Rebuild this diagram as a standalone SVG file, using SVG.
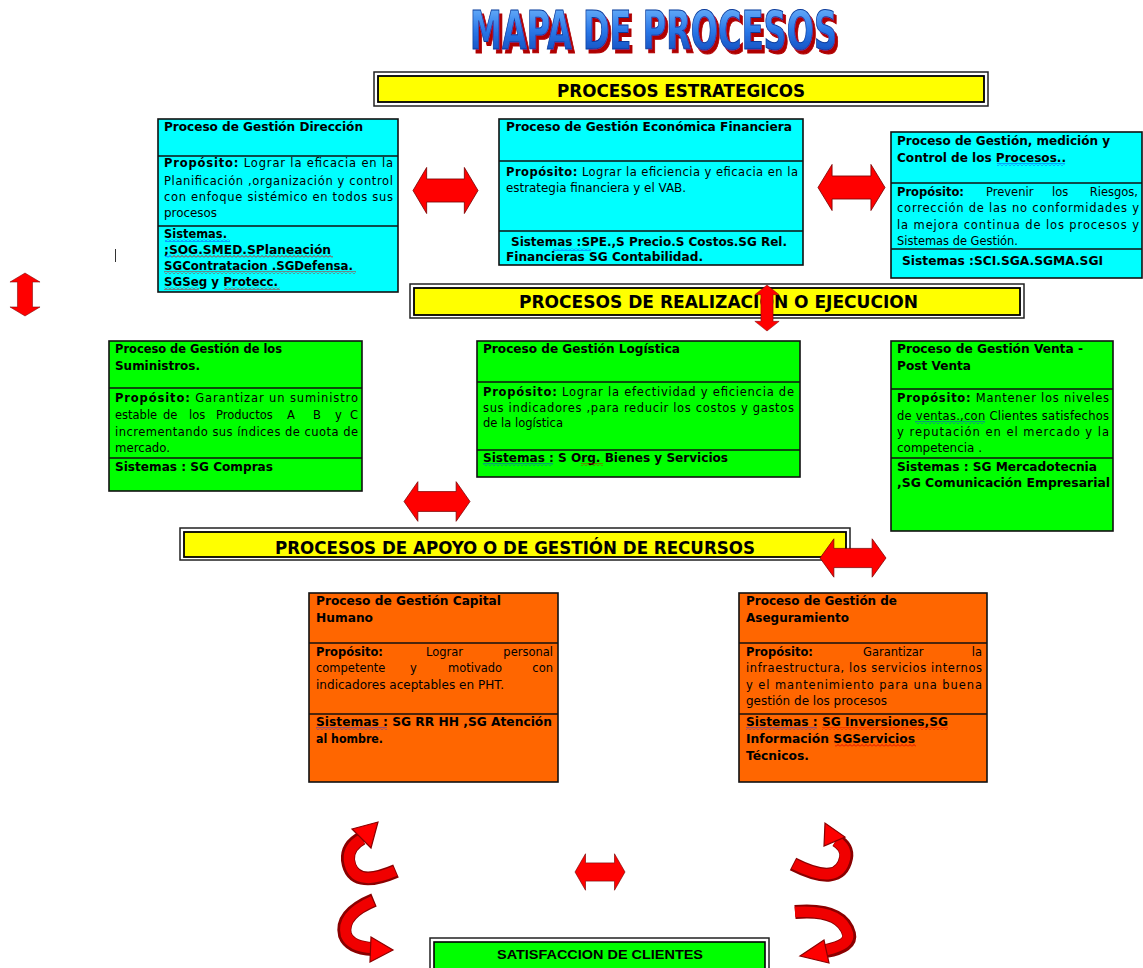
<svg xmlns="http://www.w3.org/2000/svg" width="1143" height="968" viewBox="0 0 1143 968">
<style>
.bx{stroke:#111;stroke-width:1.6}
.cy{fill:#00ffff}.gr{fill:#00ff00}.or{fill:#ff6600}
.dv{stroke:#111;stroke-width:1.6}
.b{font-family:"DejaVu Sans",Verdana,sans-serif;font-size:12px;font-weight:bold;fill:#000}
.r{font-family:"DejaVu Sans",Verdana,sans-serif;font-size:11.5px;fill:#000}
.bt{font-weight:bold}
.bn{font-family:"DejaVu Sans Condensed","DejaVu Sans",sans-serif;font-size:17px;font-weight:bold;fill:#000}
.ban-o{fill:#fff;stroke:#222;stroke-width:1.5}
.ban-i{fill:#ffff00;stroke:#000;stroke-width:1.8}
.arr{fill:#ff0000;stroke:#7a0000;stroke-width:1.2}
.rb-o{fill:none;stroke:#8a0000;stroke-width:14;stroke-linecap:butt}
.rb-i{fill:none;stroke:#f00000;stroke-width:10.5;stroke-linecap:butt}
.hd{fill:#ff0000;stroke:#8a0000;stroke-width:1.2}
</style>
<defs>
<linearGradient id="tg" x1="0" y1="0" x2="0" y2="1">
<stop offset="0" stop-color="#7cc0ff"/><stop offset="0.5" stop-color="#2a78e8"/><stop offset="1" stop-color="#0a3fb0"/>
</linearGradient>
<filter id="tsh" x="-5%" y="-15%" width="115%" height="140%">
<feOffset in="SourceAlpha" dx="3" dy="4" result="o"/>
<feFlood flood-color="#b00000"/>
<feComposite in2="o" operator="in" result="s"/>
<feMerge><feMergeNode in="s"/><feMergeNode in="SourceGraphic"/></feMerge>
</filter>
<pattern id="wr" width="4" height="3" patternUnits="userSpaceOnUse"><path d="M0 2.5 L2 0.5 L4 2.5" fill="none" stroke="#e00000" stroke-width="0.9"/></pattern>
<pattern id="wb" width="4" height="3" patternUnits="userSpaceOnUse"><path d="M0 2.5 L2 0.5 L4 2.5" fill="none" stroke="#1030ff" stroke-width="0.9"/></pattern>
<path id="dbl" d="M-50 0 L-29 -32 L-29 -16 L29 -16 L29 -32 L50 0 L29 32 L29 16 L-29 16 L-29 32 Z"/>
</defs>
<rect width="1143" height="968" fill="#fff"/>

<g id="title">
<text x="470" y="49" textLength="367" lengthAdjust="spacingAndGlyphs" font-family="DejaVu Sans Condensed, DejaVu Sans, sans-serif" font-weight="bold" font-size="54" fill="url(#tg)" stroke="#0b3a9a" stroke-width="1" filter="url(#tsh)">MAPA DE PROCESOS</text>
</g>

<g id="banner-estrategicos">
<rect class="ban-o" x="374" y="72" width="614" height="34"/>
<rect class="ban-i" x="378" y="76" width="606" height="26"/>
<text class="bn" x="557" y="97" textLength="248" lengthAdjust="spacingAndGlyphs">PROCESOS ESTRATEGICOS</text>
</g>

<g id="banner-realizacion">
<rect class="ban-o" x="410" y="284" width="614" height="34"/>
<rect class="ban-i" x="414" y="288" width="606" height="27"/>
<text class="bn" x="519" y="308" textLength="399" lengthAdjust="spacingAndGlyphs">PROCESOS DE REALIZACION O EJECUCION</text>
</g>

<g id="banner-apoyo">
<rect class="ban-o" x="180" y="528" width="670" height="32"/>
<rect class="ban-i" x="184" y="532" width="662" height="25"/>
<text class="bn" x="275" y="554" textLength="480" lengthAdjust="spacingAndGlyphs">PROCESOS DE APOYO O DE GESTIÓN DE RECURSOS</text>
</g>

<g id="n-direccion">
<rect class="bx cy" x="158" y="119" width="240" height="173"/>
<line class="dv" x1="158" y1="156" x2="398" y2="156"/>
<line class="dv" x1="158" y1="226" x2="398" y2="226"/>
<text class="b" x="164" y="131" textLength="199" lengthAdjust="spacingAndGlyphs">Proceso de Gestión Dirección</text>
<text class="r" x="164" y="167" textLength="229" lengthAdjust="spacing"><tspan class="bt">Propósito:</tspan> Lograr la eficacia en la</text>
<text class="r" x="164" y="185" textLength="229" lengthAdjust="spacing">Planificación ,organización y control</text>
<text class="r" x="164" y="201" textLength="229" lengthAdjust="spacing">con enfoque sistémico en todos sus</text>
<text class="r" x="164" y="217" textLength="53" lengthAdjust="spacingAndGlyphs">procesos</text>
<text class="b" x="164" y="238" textLength="63" lengthAdjust="spacingAndGlyphs">Sistemas.</text>
<text class="b" x="164" y="254" textLength="167" lengthAdjust="spacingAndGlyphs">;SOG.SMED.SPlaneación</text>
<text class="b" x="164" y="270" textLength="189" lengthAdjust="spacingAndGlyphs">SGContratacion .SGDefensa.</text>
<text class="b" x="164" y="286" textLength="114" lengthAdjust="spacingAndGlyphs">SGSeg y Protecc.</text>
<rect x="165" y="239" width="65" height="3" fill="url(#wb)"/>
<rect x="165" y="255" width="6" height="3" fill="url(#wb)"/>
<rect x="171" y="255" width="162" height="3" fill="url(#wr)"/>
<rect x="164" y="271" width="192" height="3" fill="url(#wr)"/>
<rect x="164" y="287" width="35" height="3" fill="url(#wr)"/>
<rect x="224" y="287" width="56" height="3" fill="url(#wr)"/>
</g>

<g id="n-economica">
<rect class="bx cy" x="499" y="119" width="304" height="146"/>
<line class="dv" x1="499" y1="161" x2="803" y2="161"/>
<line class="dv" x1="499" y1="231" x2="803" y2="231"/>
<text class="b" x="506" y="131" textLength="286" lengthAdjust="spacingAndGlyphs">Proceso de Gestión Económica Financiera</text>
<text class="r" x="506" y="176" textLength="292" lengthAdjust="spacing"><tspan class="bt">Propósito:</tspan> Lograr la eficiencia y eficacia en la</text>
<text class="r" x="506" y="192" textLength="180" lengthAdjust="spacingAndGlyphs">estrategia financiera y el VAB.</text>
<text class="b" x="511" y="246" textLength="276" lengthAdjust="spacingAndGlyphs">Sistemas :SPE.,S Precio.S Costos.SG Rel.</text>
<text class="b" x="506" y="261" textLength="197" lengthAdjust="spacingAndGlyphs">Financieras SG Contabilidad.</text>
<rect x="553" y="248" width="38" height="3" fill="url(#wb)"/>
</g>

<g id="n-control">
<rect class="bx cy" x="891" y="132" width="251" height="146"/>
<line class="dv" x1="891" y1="183" x2="1142" y2="183"/>
<line class="dv" x1="891" y1="249" x2="1142" y2="249"/>
<text class="b" x="897" y="145" textLength="213" lengthAdjust="spacingAndGlyphs">Proceso de Gestión, medición y</text>
<text class="b" x="897" y="162" textLength="169" lengthAdjust="spacingAndGlyphs">Control de los Procesos..</text>
<text class="r" y="196"><tspan class="bt" x="897">Propósito:</tspan><tspan x="986">Prevenir</tspan><tspan x="1052">los</tspan><tspan x="1138" text-anchor="end">Riesgos,</tspan></text>
<text class="r" x="897" y="212" textLength="242" lengthAdjust="spacing">corrección de  las no conformidades y</text>
<text class="r" x="897" y="229" textLength="242" lengthAdjust="spacing">la mejora continua de los procesos y</text>
<text class="r" x="897" y="245" textLength="121" lengthAdjust="spacingAndGlyphs">Sistemas de Gestión.</text>
<text class="b" x="902" y="265" textLength="201" lengthAdjust="spacingAndGlyphs">Sistemas :SCI.SGA.SGMA.SGI</text>
<rect x="997" y="163" width="68" height="3" fill="url(#wb)"/>
</g>

<g id="n-suministros">
<rect class="bx gr" x="109" y="341" width="253" height="150"/>
<line class="dv" x1="109" y1="388" x2="362" y2="388"/>
<line class="dv" x1="109" y1="458" x2="362" y2="458"/>
<text class="b" x="115" y="353" textLength="167" lengthAdjust="spacingAndGlyphs">Proceso de Gestión de los</text>
<text class="b" x="115" y="370" textLength="85" lengthAdjust="spacingAndGlyphs">Suministros.</text>
<text class="r" x="115" y="402" textLength="243" lengthAdjust="spacing"><tspan class="bt">Propósito:</tspan> Garantizar un suministro</text>
<text class="r" y="419"><tspan x="115">estable</tspan><tspan x="163">de</tspan><tspan x="189">los</tspan><tspan x="216">Productos</tspan><tspan x="287">A</tspan><tspan x="313">B</tspan><tspan x="335">y</tspan><tspan x="358" text-anchor="end">C</tspan></text>
<text class="r" x="115" y="436" textLength="243" lengthAdjust="spacing">incrementando sus índices de cuota de</text>
<text class="r" x="115" y="452" textLength="55" lengthAdjust="spacingAndGlyphs">mercado.</text>
<text class="b" x="115" y="471" textLength="158" lengthAdjust="spacingAndGlyphs">Sistemas : SG Compras</text>
</g>

<g id="n-logistica">
<rect class="bx gr" x="477" y="341" width="323" height="136"/>
<line class="dv" x1="477" y1="382" x2="800" y2="382"/>
<line class="dv" x1="477" y1="450" x2="800" y2="450"/>
<text class="b" x="483" y="353" textLength="197" lengthAdjust="spacingAndGlyphs">Proceso de Gestión Logística</text>
<text class="r" x="483" y="396" textLength="311" lengthAdjust="spacing"><tspan class="bt">Propósito:</tspan> Lograr la efectividad y eficiencia de</text>
<text class="r" x="483" y="412" textLength="311" lengthAdjust="spacing">sus indicadores ,para reducir los costos y gastos</text>
<text class="r" x="483" y="427" textLength="80" lengthAdjust="spacingAndGlyphs">de la logística</text>
<text class="b" x="483" y="462" textLength="245" lengthAdjust="spacingAndGlyphs">Sistemas : S Org. Bienes y Servicios</text>
<rect x="483" y="463" width="70" height="3" fill="url(#wb)"/>
<rect x="581" y="463" width="22" height="3" fill="url(#wr)"/>
</g>

<g id="n-venta">
<rect class="bx gr" x="891" y="341" width="222" height="190"/>
<line class="dv" x1="891" y1="389" x2="1113" y2="389"/>
<line class="dv" x1="891" y1="458" x2="1113" y2="458"/>
<text class="b" x="897" y="353" textLength="186" lengthAdjust="spacingAndGlyphs">Proceso de Gestión Venta -</text>
<text class="b" x="897" y="370" textLength="74" lengthAdjust="spacingAndGlyphs">Post Venta</text>
<text class="r" x="897" y="402" textLength="212" lengthAdjust="spacing"><tspan class="bt">Propósito:</tspan> Mantener los niveles</text>
<text class="r" x="897" y="420" textLength="212" lengthAdjust="spacing">de ventas.,con Clientes satisfechos</text>
<text class="r" x="897" y="436" textLength="212" lengthAdjust="spacing">y reputación en el mercado y la</text>
<text class="r" x="897" y="452" textLength="85" lengthAdjust="spacingAndGlyphs">competencia .</text>
<text class="b" x="897" y="471" textLength="200" lengthAdjust="spacingAndGlyphs">Sistemas : SG Mercadotecnia</text>
<text class="b" x="897" y="487" textLength="213" lengthAdjust="spacingAndGlyphs">,SG Comunicación Empresarial</text>
<rect x="915" y="421" width="70" height="3" fill="url(#wb)"/>
</g>

<g id="n-capital">
<rect class="bx or" x="309" y="593" width="249" height="189"/>
<line class="dv" x1="309" y1="643" x2="558" y2="643"/>
<line class="dv" x1="309" y1="714" x2="558" y2="714"/>
<text class="b" x="316" y="605" textLength="185" lengthAdjust="spacingAndGlyphs">Proceso de Gestión Capital</text>
<text class="b" x="316" y="622" textLength="57" lengthAdjust="spacingAndGlyphs">Humano</text>
<text class="r" y="656"><tspan class="bt" x="316">Propósito:</tspan><tspan x="426">Lograr</tspan><tspan x="553" text-anchor="end">personal</tspan></text>
<text class="r" y="672"><tspan x="316">competente</tspan><tspan x="410">y</tspan><tspan x="448">motivado</tspan><tspan x="553" text-anchor="end">con</tspan></text>
<text class="r" x="316" y="689" textLength="188" lengthAdjust="spacingAndGlyphs">indicadores aceptables en PHT.</text>
<text class="b" x="316" y="726" textLength="236" lengthAdjust="spacingAndGlyphs">Sistemas : SG RR HH ,SG Atención</text>
<text class="b" x="316" y="743" textLength="67" lengthAdjust="spacingAndGlyphs">al hombre.</text>
<rect x="316" y="727" width="71" height="3" fill="url(#wb)"/>
</g>

<g id="n-aseguramiento">
<rect class="bx or" x="739" y="593" width="248" height="189"/>
<line class="dv" x1="739" y1="643" x2="987" y2="643"/>
<line class="dv" x1="739" y1="714" x2="987" y2="714"/>
<text class="b" x="746" y="605" textLength="151" lengthAdjust="spacingAndGlyphs">Proceso de Gestión de</text>
<text class="b" x="746" y="622" textLength="103" lengthAdjust="spacingAndGlyphs">Aseguramiento</text>
<text class="r" y="656"><tspan class="bt" x="746">Propósito:</tspan><tspan x="863">Garantizar</tspan><tspan x="982" text-anchor="end">la</tspan></text>
<text class="r" x="746" y="672" textLength="236" lengthAdjust="spacing">infraestructura, los  servicios internos</text>
<text class="r" x="746" y="689" textLength="236" lengthAdjust="spacing">y el mantenimiento para una buena</text>
<text class="r" x="746" y="705" textLength="141" lengthAdjust="spacingAndGlyphs">gestión de los procesos</text>
<text class="b" x="746" y="726" textLength="202" lengthAdjust="spacingAndGlyphs">Sistemas : SG Inversiones,SG</text>
<text class="b" x="746" y="743" textLength="169" lengthAdjust="spacingAndGlyphs">Información SGServicios</text>
<text class="b" x="746" y="760" textLength="63" lengthAdjust="spacingAndGlyphs">Técnicos.</text>
<rect x="746" y="727" width="71" height="3" fill="url(#wb)"/>
<rect x="822" y="727" width="126" height="3" fill="url(#wr)"/>
<rect x="835" y="744" width="81" height="3" fill="url(#wr)"/>
</g>

<g id="n-satisfaccion">
<rect x="430" y="938" width="339" height="34" fill="#fff" stroke="#222" stroke-width="1.5"/>
<rect x="434" y="942" width="331" height="30" fill="#00ff00" stroke="#000" stroke-width="1.6"/>
<text x="497" y="959" textLength="206" lengthAdjust="spacingAndGlyphs" font-family="Liberation Sans, Arial, sans-serif" font-size="12.5" font-weight="bold" fill="#000">SATISFACCION DE CLIENTES</text>
</g>

<line x1="115.5" y1="249" x2="115.5" y2="262" stroke="#333" stroke-width="1"/>

<g id="connectors">
<use href="#dbl" class="arr" transform="translate(445.5 190.5) scale(0.65 0.72)"/>
<use href="#dbl" class="arr" transform="translate(851.5 187.5) scale(0.67 0.72)"/>
<use href="#dbl" class="arr" transform="translate(437 501.5) scale(0.66 0.62)"/>
<use href="#dbl" class="arr" transform="translate(853 558) scale(0.66 0.6)"/>
<use href="#dbl" class="arr" transform="translate(600 872) scale(0.5 0.57)"/>
<use href="#dbl" class="arr" transform="translate(25 294.5) rotate(90) scale(0.43 0.47)"/>
<use href="#dbl" class="arr" transform="translate(767 308) rotate(90) scale(0.46 0.38)"/>

<g id="curve-lt">
<path class="rb-o" d="M396 871 Q352 890 348 860 Q347 846 362 838"/>
<path class="rb-i" d="M395 871 Q353 889 349 860 Q348 847 362 839"/>
<polygon class="hd" points="352,829 378,822 371,848"/>
</g>
<g id="curve-lb">
<path class="rb-o" d="M374 900 Q340 914 345 935 Q350 948 373 949"/>
<path class="rb-i" d="M373 901 Q341 915 346 935 Q351 947 373 948"/>
<polygon class="hd" points="371,937 393,950 370,962"/>
</g>
<g id="curve-rt">
<path class="rb-o" d="M793 864 Q840 888 846 858 Q848 847 836 840"/>
<path class="rb-i" d="M794 864 Q839 887 845 858 Q847 848 836 841"/>
<polygon class="hd" points="824,846 825,823 845,837"/>
</g>
<g id="curve-rb">
<path class="rb-o" d="M795 912 Q842 908 849 934 Q852 946 826 951"/>
<path class="rb-i" d="M795 912 Q841 909 848 934 Q850 945 826 950"/>
<polygon class="hd" points="824,940 800,956 829,963"/>
</g>
</g>
</svg>
